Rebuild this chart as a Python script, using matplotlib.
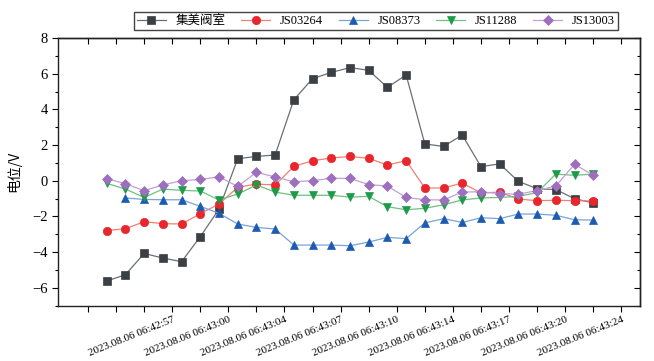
import numpy as np
import matplotlib
matplotlib.use("Agg")
import matplotlib.pyplot as plt

plt.rcParams['font.family'] = ['Liberation Serif', 'Noto Sans CJK SC']

names = ["集美阀室", "JS03264", "JS08373", "JS11288", "JS13003"]

jimei = [-5.63, -5.27, -4.08, -4.34, -4.54, -3.14, -1.59, 1.23, 1.36, 1.44,
         4.54, 5.72, 6.07, 6.34, 6.19, 5.23, 5.93, 2.06, 1.92, 2.56,
         0.79, 0.94, -0.04, -0.45, -0.50, -1.01, -1.25]
js03264 = [-2.80, -2.69, -2.30, -2.41, -2.43, -1.85, -1.31, -0.37, -0.19, -0.24,
           0.80, 1.12, 1.27, 1.36, 1.25, 0.88, 1.12, -0.41, -0.41, -0.13,
           -0.69, -0.64, -1.03, -1.12, -1.10, -1.12, -1.14]
js08373 = [np.nan, -0.97, -1.05, -1.07, -1.07, -1.44, -1.83, -2.43, -2.62, -2.71,
           -3.61, -3.61, -3.61, -3.65, -3.44, -3.18, -3.25, -2.37, -2.13, -2.34,
           -2.08, -2.13, -1.87, -1.87, -1.94, -2.19, -2.21]
js11288 = [-0.15, -0.47, -0.94, -0.47, -0.54, -0.58, -1.08, -0.75, -0.24, -0.64,
           -0.82, -0.82, -0.82, -0.92, -0.88, -1.46, -1.63, -1.55, -1.35, -1.08,
           -0.97, -0.94, -0.88, -0.67, 0.37, 0.30, 0.37]
js13003 = [0.11, -0.17, -0.56, -0.24, 0.00, 0.07, 0.21, -0.32, 0.47, 0.21,
           -0.06, 0.00, 0.13, 0.13, -0.22, -0.30, -0.94, -1.07, -1.08, -0.64,
           -0.62, -0.73, -0.75, -0.56, -0.30, 0.92, 0.30]

time_labels = ["2023.08.06 06:42:57", "2023.08.06 06:43:00", "2023.08.06 06:43:04",
               "2023.08.06 06:43:07", "2023.08.06 06:43:10", "2023.08.06 06:43:14",
               "2023.08.06 06:43:17", "2023.08.06 06:43:20", "2023.08.06 06:43:24"]

series = [jimei, js03264, js08373, js11288, js13003]
marker_colors = ["#3b4045", "#e8262c", "#1d5bb0", "#1c9b48", "#9e6fbe"]
line_colors = ["#6b6f73", "#f08070", "#7aa3d8", "#70c080", "#c0a0d8"]
markers = ["s", "o", "^", "v", "D"]
sizes = [5.5, 6, 6, 6, 5]

x = np.arange(len(jimei))

fig = plt.figure(figsize=(6.54, 3.61), dpi=100)
ax = fig.add_axes([0.0894, 0.1537, 0.8892, 0.741])

for name, y, mc, lc, m, s in zip(names, series, marker_colors, line_colors, markers, sizes):
    ax.plot(x, y, color=lc, lw=0.9, marker=m, markersize=s,
            markerfacecolor=mc, markeredgecolor=mc, markeredgewidth=0.5, label=name)

ax.set_xlim(-2.58, 28.5)
ax.set_ylim(-7, 8)

all_ticks = np.arange(-1, 28, 1.5)
labels = [""] * len(all_ticks)
for i, t in enumerate(all_ticks):
    k = int(round((t - 3.5) / 3))
    if t >= 3.5 and abs(t - (3.5 + 3 * k)) < 1e-6 and k < len(time_labels):
        labels[i] = time_labels[k]
ax.set_xticks(all_ticks)
ax.set_xticklabels(labels, rotation=22, ha='right', va='top',
                   rotation_mode='anchor', fontsize=8)

ax.set_yticks(np.arange(-6, 9, 2))
ax.set_yticks(np.arange(-7, 8, 2), minor=True)
ax.tick_params(axis='y', which='major', labelsize=10.5, direction='out', length=4)
ax.tick_params(axis='y', which='minor', direction='out', length=2.5)
ax.tick_params(axis='x', direction='out', length=4, pad=3)
ax.tick_params(which='both', width=0.8)

# inward ticks on top and right
top = ax.secondary_xaxis('top')
top.set_xticks(all_ticks)
top.tick_params(direction='in', length=4, width=0.8, labeltop=False)
right = ax.secondary_yaxis('right')
right.set_yticks(np.arange(-6, 9, 2))
right.set_yticks(np.arange(-7, 8, 2), minor=True)
right.tick_params(which='major', direction='in', length=4, width=0.8, labelright=False)
right.tick_params(which='minor', direction='in', length=2.5, width=0.8)

ax.set_ylabel("电位/V", fontsize=10, family=['Noto Sans CJK SC', 'DejaVu Sans'], labelpad=8)

for a in (ax, top, right):
    for sp in a.spines.values():
        sp.set_linewidth(1.0)
        sp.set_color("#222222")

fig.legend(loc='center', bbox_to_anchor=(0.575, 0.942), ncol=5,
           frameon=True, fancybox=False, edgecolor='#444444', framealpha=1,
           handlelength=2.3, columnspacing=1.25, handletextpad=0.8,
           borderpad=0.25, borderaxespad=0,
           prop={'family': ['Liberation Serif', 'Noto Sans CJK SC'], 'size': 9})

fig.savefig("out.png", dpi=100)
